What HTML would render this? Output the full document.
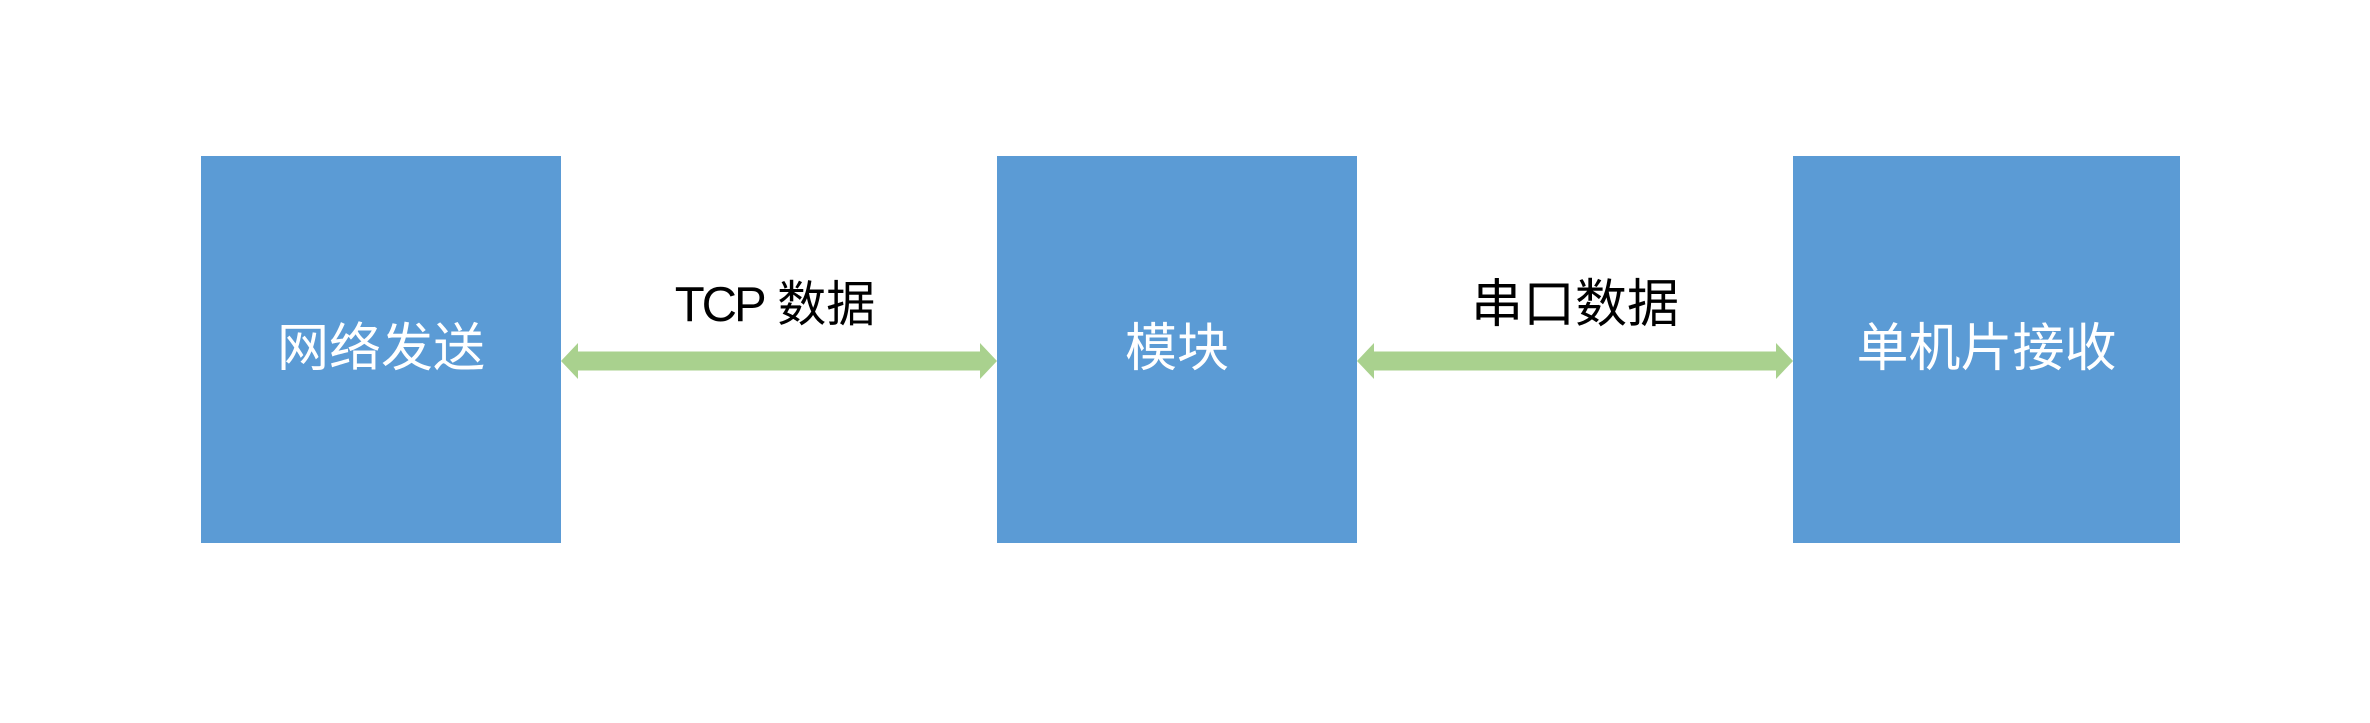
<!DOCTYPE html>
<html><head><meta charset="utf-8"><style>
body{margin:0;width:2370px;height:723px;background:#fff;position:relative;overflow:hidden;font-family:"Liberation Sans","Noto Sans CJK SC",sans-serif}
.b{position:absolute;top:156px;height:387px;background:#5B9BD5;color:#fff;font-size:52px;display:flex;align-items:center;justify-content:center;padding-bottom:0}
.b span{position:relative;top:-6px}
.l{position:absolute;font-size:52px;color:#000;text-align:center;width:436px;top:273px;line-height:64px}
</style></head><body>
<div class="b" style="left:201px;width:360px"><span>网络发送</span></div>
<div class="b" style="left:997px;width:360px"><span>模块</span></div>
<div class="b" style="left:1793px;width:387px"><span>单机片接收</span></div>
<div class="l" style="left:557px;font-size:49px"><span style="letter-spacing:-3px">TCP</span> 数据</div>
<div class="l" style="left:1357px">串口数据</div>
<svg width="2370" height="723" style="position:absolute;left:0;top:0">
<polygon fill="#A9D18E" points="561,361 578,343 578,351.5 980,351.5 980,343 997,361 980,379 980,370.5 578,370.5 578,379"/>
<polygon fill="#A9D18E" points="1357,361 1374,343 1374,351.5 1776,351.5 1776,343 1793,361 1776,379 1776,370.5 1374,370.5 1374,379"/>
</svg>
</body></html>
